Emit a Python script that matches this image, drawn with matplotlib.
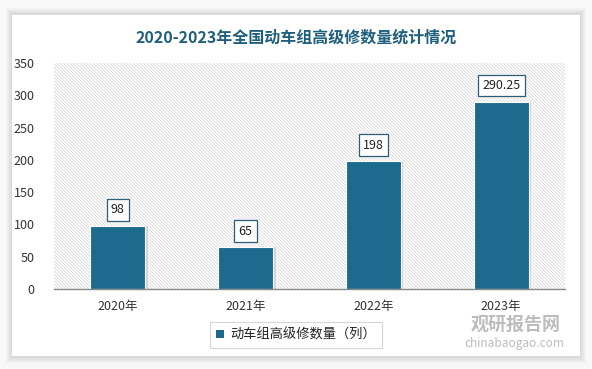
import matplotlib
matplotlib.use('Agg')
import matplotlib.pyplot as plt
from matplotlib.patches import Rectangle
from matplotlib.patches import Patch

plt.rcParams['font.family'] = ['Noto Sans CJK SC', 'DejaVu Sans']
plt.rcParams['hatch.linewidth'] = 0.6

# 数据
years = ['2020年', '2021年', '2022年', '2023年']
values = [98, 65, 198, 290.25]
value_labels = ['98', '65', '198', '290.25']
yticks = [0, 50, 100, 150, 200, 250, 300, 350]

title = '2020-2023年全国动车组高级修数量统计情况'
series_name = '动车组高级修数量（列）'
bar_color = '#1d6a8f'
title_color = '#1f5f7e'

W, H = 592, 369
fig = plt.figure(figsize=(W / 100, H / 100), dpi=100)
fig.patch.set_facecolor('#f8f8f8')

# 白色卡片 + 柔和阴影
for i in range(6):
    d = 6 - i
    fig.patches.append(Rectangle(((12 - d) / W, 1 - (357 + d) / H),
                                 (568 + 2 * d) / W, (343 + 2 * d) / H,
                                 transform=fig.transFigure, facecolor='black',
                                 alpha=0.018, edgecolor='none', zorder=-3))
fig.patches.append(Rectangle((12 / W, 1 - 356 / H), 568 / W, 341 / H,
                             transform=fig.transFigure, facecolor='white',
                             edgecolor='none', zorder=-2))

fig.text(0.5, 1 - 38 / H, title, ha='center', va='center', fontsize=11.5,
         fontweight='bold', color=title_color)

ax = fig.add_axes([54 / W, 1 - 289 / H, (565 - 54) / W, (289 - 63) / H])
ax.set_facecolor('none')
ax.add_patch(Rectangle((0, 0), 1, 1, transform=ax.transAxes, facecolor='white',
                       edgecolor='#d9d9d9', hatch='\\' * 10, linewidth=0, zorder=0))

x = range(len(years))
# 柱子阴影
ax.bar([i + 0.02 for i in x], values, width=0.43, color='#000000', alpha=0.12, zorder=1)
bars = ax.bar(x, values, width=0.43, color=bar_color, edgecolor='white',
              linewidth=0.8, zorder=2)

for b, lab in zip(bars, value_labels):
    ax.annotate(lab, (b.get_x() + b.get_width() / 2, b.get_height()),
                xytext=(0, 11.5), textcoords='offset points', ha='center', va='center',
                fontsize=9, color='#222222', zorder=4,
                bbox=dict(boxstyle='square,pad=0.35', facecolor='white',
                          edgecolor='#2b5d75', linewidth=0.9))

ax.set_xlim(-0.5, len(years) - 0.5)
ax.set_ylim(0, 350)
ax.set_yticks(yticks)
ax.set_xticks(list(x))
ax.set_xticklabels(years)
ax.tick_params(axis='both', length=0, labelsize=9, colors='#333333')
ax.tick_params(axis='x', pad=8)
ax.tick_params(axis='y', pad=14)
for s in ['top', 'right', 'left']:
    ax.spines[s].set_visible(False)
ax.spines['bottom'].set_color('#888888')
ax.spines['bottom'].set_linewidth(1)
ax.spines['bottom'].set_zorder(5)

leg = fig.legend(handles=[Patch(facecolor=bar_color, label=series_name)],
                 loc='center', bbox_to_anchor=(296 / W, 1 - 335 / H),
                 fontsize=9.5, frameon=True, fancybox=False, edgecolor='#cccccc',
                 handlelength=0.6, handleheight=0.6, handletextpad=0.5,
                 borderpad=0.45, borderaxespad=0)
leg.get_frame().set_linewidth(0.8)
for t in leg.get_texts():
    t.set_color('#222222')

# 水印
fig.text(516 / W, 1 - 324 / H, '观研报告网', ha='center', va='center', fontsize=13,
         fontweight='bold', color='#b5b5b5', alpha=0.9)
fig.text(514 / W, 1 - 344 / H, 'chinabaogao.com', ha='center', va='center', fontsize=8.5,
         color='#b5b5b5', alpha=0.9)

fig.savefig('out.png', dpi=100, facecolor=fig.get_facecolor())
